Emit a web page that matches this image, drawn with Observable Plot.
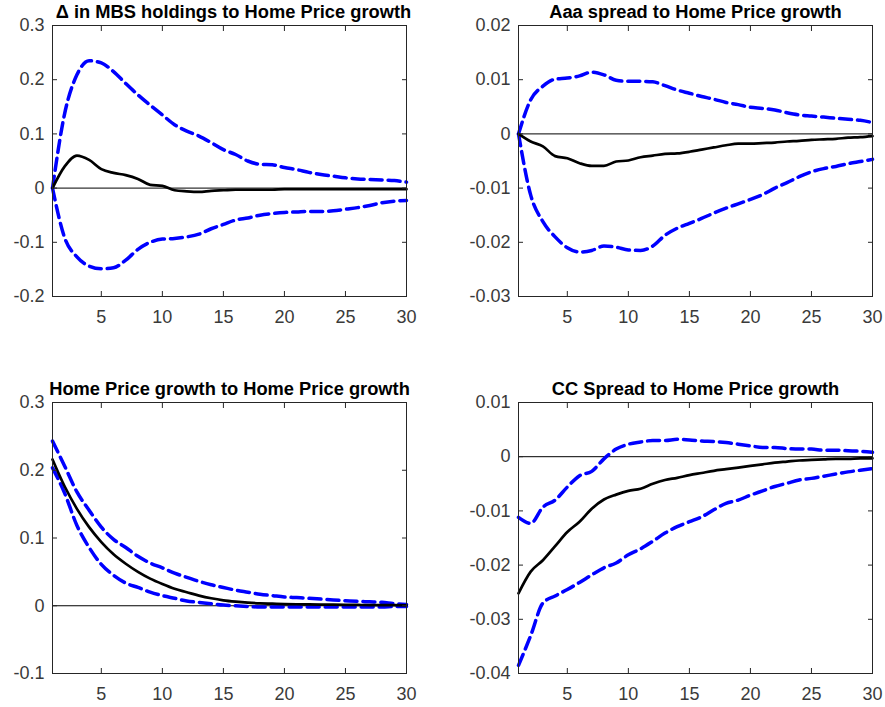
<!DOCTYPE html>
<html>
<head>
<meta charset="utf-8">
<script src="https://cdn.jsdelivr.net/npm/d3@7"></script>
<script src="https://cdn.jsdelivr.net/npm/@observablehq/plot@0.6"></script>
<style>
  html, body { margin: 0; padding: 0; background: #fff; }
  #wrap { position: relative; width: 885px; height: 707px; background: #fff; overflow: hidden; }
  #wrap > svg { position: absolute; }
</style>
</head>
<body>
<div id="wrap"></div>
<script>
// ---------- data ----------
const horizons = [1,2,3,4,5,6,7,8,9,10,11,12,13,14,15,16,17,18,19,20,21,22,23,24,25,26,27,28,29,30];
const xTicks = [5, 10, 15, 20, 25, 30];

const titles = [
  "Δ in MBS holdings to Home Price growth",
  "Aaa spread to Home Price growth",
  "Home Price growth to Home Price growth",
  "CC Spread to Home Price growth"
];

const yTicksMBS = [-0.2, -0.1, 0, 0.1, 0.2, 0.3];
const yTicksAaa = [-0.03, -0.02, -0.01, 0, 0.01, 0.02];
const yTicksHPG = [-0.1, 0, 0.1, 0.2, 0.3];
const yTicksCC  = [-0.04, -0.03, -0.02, -0.01, 0, 0.01];

// Δ in MBS holdings
const mbsMedian = [0, 0.040, 0.060, 0.052, 0.035, 0.028, 0.024, 0.017, 0.006, 0.004, -0.004, -0.006, -0.007, -0.005, -0.004, -0.003, -0.003, -0.003, -0.003, -0.002, -0.002, -0.002, -0.002, -0.002, -0.002, -0.002, -0.002, -0.002, -0.002, -0.002];
const mbsUpper  = [0, 0.138, 0.209, 0.235, 0.231, 0.215, 0.193, 0.172, 0.153, 0.135, 0.117, 0.105, 0.096, 0.084, 0.071, 0.062, 0.050, 0.044, 0.043, 0.038, 0.034, 0.029, 0.025, 0.022, 0.019, 0.017, 0.016, 0.015, 0.014, 0.011];
const mbsLower  = [0, -0.092, -0.127, -0.144, -0.149, -0.147, -0.133, -0.113, -0.100, -0.094, -0.093, -0.090, -0.085, -0.075, -0.067, -0.059, -0.055, -0.050, -0.047, -0.045, -0.044, -0.043, -0.043, -0.042, -0.039, -0.036, -0.032, -0.027, -0.024, -0.023];

// Aaa spread
const aaaMedian = [0, -0.0014, -0.0023, -0.0041, -0.0045, -0.0054, -0.0059, -0.0059, -0.0051, -0.0049, -0.0043, -0.0040, -0.0037, -0.0036, -0.0033, -0.0029, -0.0025, -0.0021, -0.0018, -0.0018, -0.0017, -0.0016, -0.0014, -0.0013, -0.0011, -0.0010, -0.0009, -0.0007, -0.0006, -0.0004];
const aaaUpper  = [0, 0.0063, 0.0088, 0.0101, 0.0103, 0.0107, 0.0114, 0.0109, 0.0099, 0.0097, 0.0097, 0.0096, 0.0089, 0.0081, 0.0075, 0.0069, 0.0064, 0.0058, 0.0054, 0.0049, 0.0047, 0.0044, 0.0039, 0.0035, 0.0033, 0.0031, 0.0029, 0.0027, 0.0025, 0.0021];
const aaaLower  = [0, -0.0113, -0.0162, -0.0190, -0.0210, -0.0218, -0.0215, -0.0207, -0.0209, -0.0214, -0.0215, -0.0207, -0.0187, -0.0174, -0.0165, -0.0156, -0.0146, -0.0137, -0.0129, -0.0121, -0.0112, -0.0100, -0.0090, -0.0079, -0.0070, -0.0064, -0.0060, -0.0055, -0.0051, -0.0047];

// Home Price growth
const hpgMedian = [0.216, 0.176, 0.143, 0.116, 0.094, 0.076, 0.062, 0.050, 0.040, 0.032, 0.025, 0.020, 0.015, 0.011, 0.008, 0.006, 0.0045, 0.0035, 0.003, 0.0025, 0.0022, 0.002, 0.0018, 0.0016, 0.0014, 0.0012, 0.001, 0.001, 0.0008, 0.0006];
const hpgUpper  = [0.243, 0.206, 0.168, 0.141, 0.116, 0.098, 0.086, 0.073, 0.063, 0.056, 0.048, 0.042, 0.036, 0.031, 0.027, 0.023, 0.020, 0.017, 0.015, 0.013, 0.012, 0.011, 0.0098, 0.0086, 0.0075, 0.0065, 0.0058, 0.005, 0.003, 0.002];
const hpgLower  = [0.2035, 0.166, 0.1185, 0.086, 0.061, 0.045, 0.0335, 0.027, 0.020, 0.015, 0.011, 0.007, 0.005, 0.003, 0.001, 0, -0.001, -0.002, -0.002, -0.002, -0.002, -0.002, -0.002, -0.002, -0.002, -0.002, -0.002, -0.002, -0.001, -0.001];

// CC spread
const ccMedian = [-0.0252, -0.0212, -0.0191, -0.0165, -0.0139, -0.0120, -0.0096, -0.0079, -0.0070, -0.0063, -0.0059, -0.0050, -0.0043, -0.0039, -0.0034, -0.0030, -0.0026, -0.0023, -0.0020, -0.0017, -0.0014, -0.0011, -0.0009, -0.0007, -0.0006, -0.0005, -0.0004, -0.0004, -0.0003, -0.0003];
const ccUpper  = [-0.0112, -0.0123, -0.0093, -0.0080, -0.0056, -0.0035, -0.0027, -0.0004, 0.0014, 0.0023, 0.0027, 0.0030, 0.0030, 0.0032, 0.0031, 0.0029, 0.0028, 0.0026, 0.0023, 0.0020, 0.0017, 0.0017, 0.0015, 0.0014, 0.0014, 0.0012, 0.0012, 0.0011, 0.0010, 0.0008];
const ccLower  = [-0.0385, -0.0330, -0.0270, -0.0257, -0.0245, -0.0232, -0.0218, -0.0205, -0.0196, -0.0181, -0.0170, -0.0156, -0.0141, -0.0129, -0.0120, -0.0111, -0.0098, -0.0086, -0.0080, -0.0071, -0.0063, -0.0055, -0.0049, -0.0043, -0.0040, -0.0036, -0.0032, -0.0028, -0.0025, -0.0022];

// ---------- drawing ----------
const FONT = "'Liberation Sans', Arial, Helvetica, sans-serif";
const AXIS = "#262626";
const LABEL = "#3a3a3a";

function panel({title, titleDx = 0, yTicks, median, upper, lower, left, top, marginLeft, marginRight, marginTop, marginBottom, width, height}) {
  const rows = horizons.map((h, i) => ({h, m: median[i], u: upper[i], l: lower[i]}));
  const yDomain = [yTicks[0], yTicks[yTicks.length - 1]];
  const svg = Plot.plot({
    width, height, marginLeft, marginRight, marginTop, marginBottom,
    style: {fontFamily: FONT, fontSize: "18px", color: LABEL, background: "transparent", overflow: "visible"},
    x: {domain: [1, 30], label: null},
    y: {domain: yDomain, label: null},
    marks: [
      Plot.ruleY([0], {stroke: "#000", strokeWidth: 1}),
      Plot.line(rows, {x: "h", y: "u", stroke: "#0000ff", strokeWidth: 3.5, strokeDasharray: "12,6", curve: "monotone-x"}),
      Plot.line(rows, {x: "h", y: "l", stroke: "#0000ff", strokeWidth: 3.5, strokeDasharray: "12,6", curve: "monotone-x"}),
      Plot.line(rows, {x: "h", y: "m", stroke: "#000", strokeWidth: 2.7, curve: "monotone-x"}),
      Plot.frame({stroke: AXIS, strokeWidth: 1}),
      Plot.axisX(xTicks, {anchor: "bottom", tickSize: -5, tickPadding: 19, stroke: AXIS, fill: LABEL, tickFormat: d => String(d), label: null}),
      Plot.axisX(xTicks, {anchor: "top", tickSize: -5, stroke: AXIS, fill: "none", label: null}),
      Plot.axisY(yTicks, {anchor: "left", tickSize: -5, tickPadding: 13, stroke: AXIS, fill: LABEL, tickFormat: d => String(d), label: null}),
      Plot.axisY(yTicks, {anchor: "right", tickSize: -5, stroke: AXIS, fill: "none", label: null}),
      Plot.text([title], {frameAnchor: "top", dy: -7.5, dx: titleDx, lineAnchor: "bottom", text: d => d, fontWeight: "bold", fontSize: 18.3, fill: "#000"})
    ]
  });
  svg.style.left = left + "px";
  svg.style.top = top + "px";
  document.getElementById("wrap").appendChild(svg);
}

panel({title: titles[0], titleDx: 4, yTicks: yTicksMBS, median: mbsMedian, upper: mbsUpper, lower: mbsLower,
  left: 0, top: 0, marginLeft: 52, marginRight: 34, marginTop: 25, marginBottom: 40, width: 440, height: 336});
panel({title: titles[1], yTicks: yTicksAaa, median: aaaMedian, upper: aaaUpper, lower: aaaLower,
  left: 440, top: 0, marginLeft: 78, marginRight: 13, marginTop: 25, marginBottom: 40, width: 445, height: 336});
panel({title: titles[2], yTicks: yTicksHPG, median: hpgMedian, upper: hpgUpper, lower: hpgLower,
  left: 0, top: 370, marginLeft: 52, marginRight: 34, marginTop: 32, marginBottom: 34, width: 440, height: 337});
panel({title: titles[3], yTicks: yTicksCC, median: ccMedian, upper: ccUpper, lower: ccLower,
  left: 440, top: 370, marginLeft: 78, marginRight: 13, marginTop: 32, marginBottom: 34, width: 445, height: 337});
</script>
</body>
</html>
